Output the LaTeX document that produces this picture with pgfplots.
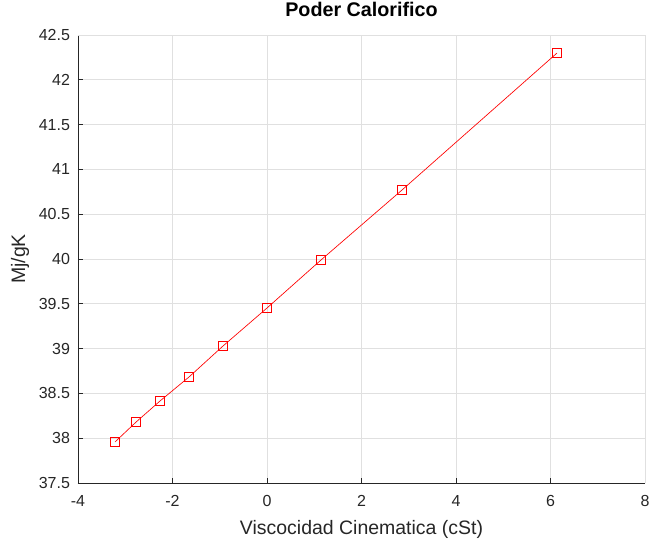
\documentclass[border=0pt]{standalone}
\usepackage{pgfplots}
\pgfplotsset{compat=1.18}
\usepackage{fontspec}
\setmainfont{Liberation Sans}

\begin{document}
\begin{tikzpicture}
\begin{axis}[
  name=ax,
  scale only axis,
  width=425.25pt, height=336pt,
  xmin=-4, xmax=8, ymin=37.5, ymax=42.5,
  xtick={-4,-2,...,8},
  ytick={37.5,38,...,42.5},
  axis x line*=bottom, axis y line*=left,
  axis line style={black!85, line width=0.5pt},
  tick align=inside, major tick length=4pt,
  tick style={black!85, line width=0.5pt},
  grid=major, grid style={black!12, line width=0.5pt},
  /pgf/number format/assume math mode=true,
  /pgf/number format/fixed,
  ticklabel style={font=\fontsize{12}{14}\selectfont, text=black!85},
  yticklabel style={xshift=-2.5pt},
  xticklabel style={yshift=-6pt},
  xlabel={Viscocidad Cinematica (cSt)},
  ylabel={Mj/gK},
  label style={font=\fontsize{14.6}{17}\selectfont, text=black!85},
  xlabel style={at={(axis description cs:0.5,-0.116)}, anchor=base},
  ylabel style={at={(axis description cs:-0.102,0.5)}, anchor=center},
  title={\textbf{Poder Calorifico}},
  title style={font=\fontsize{14.8}{17}\selectfont, at={(axis description cs:0.5,1)}, anchor=base, yshift=7.5pt},
  clip=false,
]
\addplot[red, line width=0.5pt, mark=square, mark size=3.2pt,
  mark options={draw=red, fill=none, solid, line width=0.7pt}] coordinates {
  (-3.217,37.958) (-2.772,38.180) (-2.265,38.415) (-1.651,38.683)
  (-0.931,39.029) (0.000,39.453) (1.143,39.989) (2.857,40.770)
  (6.138,42.299)};
% top and right border in grid colour
\draw[black!12, line width=0.5pt] (rel axis cs:0,1) -- (rel axis cs:1,1) -- (rel axis cs:1,0);
\end{axis}
\pgfresetboundingbox
\path ([shift={(-58.5pt,-42pt)}]ax.south west) rectangle ([shift={(3pt,26.25pt)}]ax.north east);
\end{tikzpicture}
\end{document}
